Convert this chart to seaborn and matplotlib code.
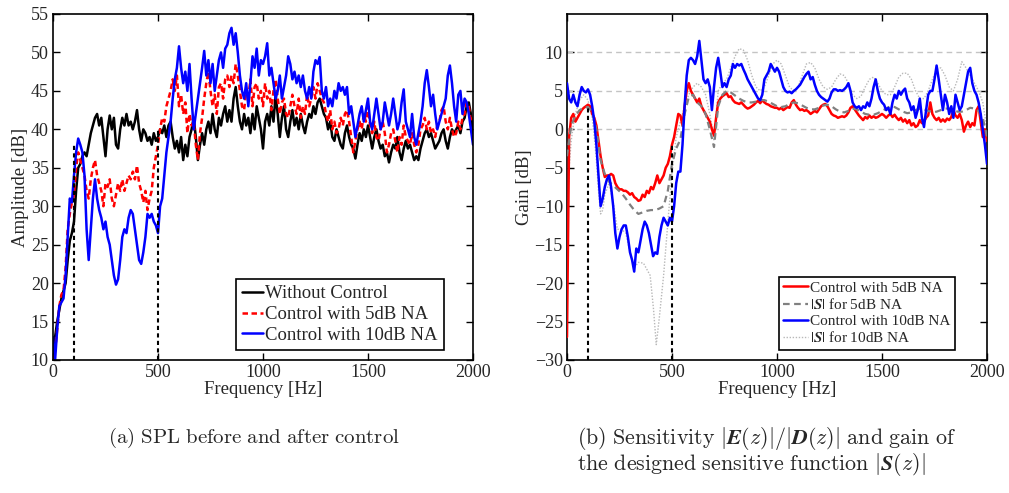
import numpy as np
import matplotlib
matplotlib.use("Agg")
import matplotlib.pyplot as plt
import seaborn as sns
from matplotlib.font_manager import FontProperties

# ---------------- data ----------------
freq_10 = np.arange(0, 2001, 10)

spl_without = [
    10, 13, 15, 16.5, 18, 19, 20, 23, 25.5, 26.5,
    28, 32, 35, 35.5, 36.5, 37, 36.5, 38, 39.5, 40.5,
    41.5, 42, 40.5, 41.5, 39, 36.5, 40, 41.8, 40, 41.5,
    38, 37.5, 40, 41.5, 40.5, 42, 40.5, 41, 40, 41,
    42.5, 40, 38.5, 40, 39.5, 38.5, 39, 38, 39.5, 38.5,
    39, 40, 39.5, 40.5, 39, 40.5, 41, 39, 37.5, 38.5,
    37, 39, 36, 38, 36.5, 39, 40, 41.5, 39, 36,
    38, 39.5, 38, 40, 41, 39.5, 42, 40, 39, 41.5,
    40.5, 42, 43, 41, 42.5, 41, 44, 45.5, 43, 41,
    40, 42, 40.5, 41.5, 39.5, 42, 40, 43, 41.5, 40,
    37.5, 41, 42, 40.5, 43, 41, 44.5, 42, 39, 41.5,
    43, 40, 39, 41, 42.5, 40.5, 41.5, 40, 42, 40.5,
    39.5, 41, 42, 41.5, 43, 42, 43.5, 44, 43, 42,
    41.5, 40, 41, 39, 38.5, 40, 39, 38, 37.5, 39.5,
    40.5, 39, 38, 37.5, 36.2, 38, 39.5, 38.5, 40, 39,
    40.5, 39, 37.5, 39, 40, 38.5, 37.5, 38, 36.5, 37,
    35.7, 37, 38, 37.5, 39, 37, 36, 37.5, 38.5, 37.5,
    38, 37, 36, 36.5, 36, 37.5, 38.5, 39.5, 40, 39,
    39.5, 38.5, 37.5, 38, 38.5, 39.5, 40, 38.5, 37.5, 39,
    40, 39.5, 40, 40.5, 39.5, 41, 41.5, 43, 43.5, 42,
    39.5]

spl_5db = [
    10, 11, 14, 17, 18.5, 19, 22, 27, 29, 30.5,
    31.5, 35, 37, 36, 35, 34, 32, 31, 33.5, 35,
    36, 34, 33, 32, 30, 33, 32.5, 33.5, 31, 30,
    31.5, 33, 32, 33.5, 32, 33, 34, 33.5, 34.5, 33.5,
    35.3, 33, 32, 30.5, 32, 29.5, 31, 32, 35, 36.5,
    38, 40, 41.5, 41, 43, 44, 45, 46.5, 45, 47,
    43, 44.5, 42, 43.5, 39.5, 42, 40.5, 41, 38, 36,
    39.5, 41.5, 44, 46, 47.5, 45, 43, 44.5, 42, 45.5,
    46, 44, 46.5, 47, 45.5, 47, 46, 48.5, 47, 45,
    43, 42.5, 45, 44, 46.5, 43, 45.5, 46, 44, 45,
    43, 46, 44, 45, 42.5, 45, 46.5, 44, 42, 43.5,
    44, 42, 41.5, 43, 44.5, 43, 42, 44, 41.5, 43,
    42, 44.5, 43, 44, 45.5, 44, 46, 45, 44, 43.5,
    42, 41, 42.5, 40, 41, 39.5, 40, 41.5, 40.5, 42,
    42.5, 41, 39, 37, 38.5, 40, 41, 40, 42, 41,
    43, 40.5, 39.5, 41, 39, 38.5, 40, 41, 39.5, 37,
    38, 39.5, 40, 38.5, 37, 39, 38, 40.5, 39, 38.5,
    38, 39.5, 38, 37, 38, 40, 40.5, 41.5, 40, 41,
    39.5, 40, 39, 40.5, 41, 42.5, 43, 41, 40, 41.5,
    40, 39, 39.5, 41, 40, 41.5, 42, 43.5, 43, 41,
    41.5]

spl_10db = [
    13, 10, 14, 17, 17.5, 18, 21, 26, 31, 30.5,
    34, 37, 38.8, 38, 37, 34, 27, 23, 27, 31,
    33.5, 31, 29.5, 28.5, 27, 28, 26, 25, 23, 21,
    19.8, 20.5, 23, 26, 27, 26.5, 28.5, 29.5, 29, 27,
    25, 23, 22.5, 24, 26, 29, 28.5, 29, 28, 27.5,
    26.5, 30, 31, 34, 37, 39, 41, 44, 46.5, 48,
    50.8, 48, 46, 47.5, 45, 48.5, 44, 40, 42, 44,
    46, 48, 50.2, 47, 49, 46, 48.5, 45, 47, 49,
    50, 48, 50.5, 51, 52.5, 53.2, 51, 52.5, 50, 47,
    45, 44, 46, 43, 46, 49.5, 48, 50.5, 47, 49,
    48.5, 49.5, 51.2, 47, 48, 46, 44, 45, 47, 44,
    45.5, 47, 49.5, 48.5, 46.5, 47.5, 46, 47, 45.5, 47,
    45, 44, 45.5, 44, 47.5, 49, 48.5, 49.4, 45, 44,
    45.5, 43, 44, 43, 45, 44, 46, 45, 45.5, 44.5,
    45.5, 42, 43, 41, 39, 40.5, 42, 43, 41, 42.5,
    44, 41, 40, 42, 44, 42, 40, 41, 43.5, 42,
    40.5, 42, 44, 42, 40, 41, 43.5, 45.2, 41, 40,
    39, 42, 39, 38, 39.5, 41, 43, 46, 47.7, 45.5,
    43, 44.5, 42, 40, 41, 42, 43, 44, 47, 48.3,
    46, 43, 41, 44.5, 45, 42, 44, 43.5, 42, 40,
    38]

gain_5db = [
    -27, -1, 1.5, 2, 1, 1.5, 2, 2.5, 2.8, 3,
    3.2, 3, 2, 1.5, 0.5, -1.5, -3.5, -5, -6.2, -6,
    -6, -5.8, -6, -7, -7.5, -7.8, -7.8, -8, -8, -8.2,
    -8.5, -8.3, -8.8, -9, -9.3, -9.2, -8.5, -8.8, -8, -8.3,
    -7.5, -7.8, -7, -6, -7, -6.5, -6, -5, -4.5, -3.5,
    -2, -1, 0.5, 2, 1.8, 0.5, 3, 5, 6, 5,
    4.5, 4, 3.5, 4, 3, 2.5, 2, 1.5, 1, 0,
    -0.8, 1.5, 3.5, 4, 4.3, 4.5, 4.7, 4.2, 4.3, 3.8,
    3.5, 3.4, 3.3, 3.5, 3.2, 2.9, 2.7, 2.8, 3, 3.2,
    3.5, 3.7, 3.4, 3.8, 3.5, 3.3, 3.2, 3.0, 2.9, 2.8,
    2.8, 2.6, 2.8, 2.5, 2.7, 2.9, 2.8, 3.5, 3.8, 3.2,
    2.8, 2.5, 2.6, 2.4, 2.5, 2.3, 2.0, 2.2, 2.4, 2.2,
    2.6, 3, 3.2, 3.3, 3.0, 2.5, 2.0, 1.8, 1.7, 1.5,
    1.6, 1.7, 1.6, 1.8, 2.2, 2.8, 3, 2.6, 2.2, 1.8,
    1.5, 1.2, 1.6, 1.4, 1.8, 1.5, 1.7, 1.5, 1.6, 1.8,
    2.0, 1.8, 1.5, 1.8, 2.0, 1.6, 1.9, 1.5, 1.2, 1.5,
    1.0, 1.3, 0.8, 1.2, 0.5, 0.8, 0.3, 0.5, 1.2, 0.8,
    1.0, 1.5, 1.8, 3.5, 2.0, 1.5, 1.2, 1.5, 1.0, 1.3,
    1.0, 1.4, 1.2, 1.6, 2.5, 1.8, 1.5, 2.0, 1.2, -0.3,
    0.5, 1.0, 0.3, 0.8, 0.5, 2.5, 3.0, 1.0, -1.0, 0.0,
    -1.5]

gain_10db = [
    6, 4, 3.5, 4.5, 3.5, 3.0, 4.5, 5.5, 5.0, 4.8,
    5.2, 4.5, 3, 1, -2, -6, -10, -9, -7.5, -6.5,
    -6.0, -7.5, -10, -13.5, -15.5, -14, -13, -12.5, -12.5, -14,
    -16, -17, -18.5, -15.5, -16, -14.5, -13, -12, -12.5, -13.5,
    -15, -16.5, -16, -16.2, -14, -12.5, -11.5, -12, -12.5, -11.5,
    -12, -10, -7, -5.5, -5.5, -2, 3, 7, 9, 9.3,
    9, 8.5, 9.5, 11.5, 9, 6.5, 6.0, 6.5, 5.5, 2.5,
    5.5, 8, 9.3, 7.5, 5.5, 6, 5.5, 6.5, 7, 8.5,
    8, 8.5, 8.3, 8.5, 7.8, 7.2, 6.5, 6.0, 5.5, 5.0,
    4.5, 4.0, 3.8, 4.5, 6.5, 7, 7.5, 8.5, 8, 7.5,
    8, 7.5, 6.5, 5.5, 5.0, 4.8, 4.9, 4.7, 5.0, 5.2,
    5.5, 5.8, 6.3, 6.8, 7.2, 7.5, 6.5, 6.8, 5.8, 5.0,
    4.5, 4.2, 4.0, 3.8, 3.6, 4.0, 4.8, 5.2, 5.2, 5.0,
    5.1, 5.0, 5.2, 5.5, 6.0, 5.0, 3.5, 3.0, 2.8, 3.0,
    2.5, 3.0, 2.8, 3.5, 3.0, 4.0, 5.5, 6.5, 5.0, 4.0,
    3.5, 3.2, 2.5, 2.8, 2.0, 3.5, 4.5, 4.0, 5.0, 4.5,
    5.0, 5.3, 4.0, 3.5, 2.5, 3.0, 1.5, 2.5, 4.0, 1.5,
    0.3, 2.5, 4.5, 5.0, 5.0, 6.5, 8.3, 6.5, 4.5, 2.5,
    4.5, 3.5, 2.0, 3.0, 1.5, 4.5, 3.5, 2.5, 3.0, 4.5,
    6.0, 7.5, 8.0, 6.0, 5.0, 4.5, 3.5, 2.0, 0.0, -2.0,
    -4.5]

freq_20 = np.arange(0, 2001, 20)
s_5db = [
    -3.5, 0.5, 1.8, 2.5, 2.8, 2.9, 2.3, 0, -4, -5.8,
    -6.8, -7.3, -7.8, -8.3, -9, -9.8, -10.5, -11, -10.8, -10.6,
    -10.5, -10.5, -10.3, -10, -8, -4.5, -2.5, -1.3, 2, 4.2,
    4.5, 3.5, 3, 2, 0, -2.3, 3, 4.5, 5, 4.8,
    4.4, 4.0, 3.7, 3.5, 3.5, 3.6, 3.8, 3.8, 3.6, 3.3,
    3.0, 2.9, 3.0, 3.3, 3.5, 3.4, 3.1, 2.8, 2.6, 2.6,
    2.8, 3.1, 3.2, 3.0, 2.6, 2.3, 2.2, 2.4, 2.7, 2.6,
    2.3, 2.0, 1.9, 1.9, 2.1, 2.4, 2.7, 3.0, 2.9, 2.6,
    2.3, 2.1, 2.2, 2.5, 2.7, 2.6, 2.4, 2.2, 2.3, 2.5,
    2.7, 2.7, 2.5, 2.3, 2.3, 2.5, 2.8, 2.7, 2.4, 1.5,
    -1]

freq_s10 = [0, 10, 20, 30, 40, 60, 80, 100, 120, 130, 140, 150, 160, 170, 180,
            200, 220, 240, 260, 280, 300, 320, 340, 364, 396, 412, 425, 440, 460,
            483, 500, 520, 540, 560, 580, 600, 620, 640, 660, 680, 690, 700, 710,
            720, 740, 760, 780, 800, 820, 840, 860, 880, 900, 920, 940, 960, 980,
            1000, 1020, 1040, 1060, 1080, 1100, 1120, 1140, 1160, 1180, 1200, 1220,
            1240, 1260, 1280, 1300, 1320, 1340, 1360, 1380, 1400, 1420, 1440, 1460,
            1480, 1500, 1520, 1540, 1560, 1580, 1600, 1620, 1640, 1660, 1680, 1700,
            1720, 1740, 1760, 1780, 1800, 1820, 1840, 1860, 1880, 1900, 1920, 1940,
            1960, 1980, 2000]
s_10db = [-12, -5, -1.5, 0.5, 2, 3.8, 4.5, 3.8, 1.5, -1, -4, -8, -11, -10.5, -8.5,
          -7, -9.5, -13, -13, -13.5, -16, -18, -17.3, -17.4, -19, -23.4, -28, -24.4, -19,
          -11.2, -5.7, -1, 1, 3, 4.5, 5.5, 6, 5.5, 4.5, 2, 0.5, -1.5, 2,
          5, 6, 6.5, 8, 9.5, 10.5, 10.3, 9, 7, 5.5, 5.0, 5.5, 7, 8.5,
          9, 8.5, 7, 5.5, 5.0, 5.5, 7, 8.5, 8.7, 8, 6.5, 5.5,
          5.2, 5.5, 6.5, 7.2, 7.0, 6.0, 4.5, 4.0, 4.3, 5.5, 6.5, 6.8,
          6.0, 5.0, 4.5, 4.5, 5.5, 6.8, 7.3, 7.3, 6.5, 5.0, 4.0, 4.0,
          5.0, 6.5, 7.8, 8.0, 7.0, 5.5, 5.0, 6.5, 8.8, 8.0, 7.0, 6.0,
          5.0, 3.5, 0]

band_edges = [100, 500]
spl_marker_tops = [38, 40]
gain_marker_tops = [3, -1.8]
gain_ref_levels = [0, 5, 10]

spl_yticks = list(range(10, 56, 5))
gain_yticks = list(range(-30, 11, 5))
freq_ticks = [0, 500, 1000, 1500, 2000]

# ---------------- styling ----------------
sns.set_style("ticks")
plt.rcParams["font.family"] = ["Liberation Serif", "DejaVu Serif"]
plt.rcParams["mathtext.fontset"] = "stix"
plt.rcParams["xtick.direction"] = "in"
plt.rcParams["ytick.direction"] = "in"

fig = plt.figure(figsize=(10.09, 4.93), dpi=100)
ax1 = fig.add_axes([53 / 1009, 1 - 360 / 493, 420 / 1009, 346 / 493])
ax2 = fig.add_axes([567 / 1009, 1 - 360 / 493, 420 / 1009, 346 / 493])

lw = 1.8
# ---- panel (a)
sns.lineplot(x=freq_10, y=spl_without, ax=ax1, color="black", linewidth=lw,
             label="Without Control")
sns.lineplot(x=freq_10, y=spl_5db, ax=ax1, color="#ff0000", linewidth=lw,
             label="Control with 5dB NA")
ax1.lines[-1].set_dashes((2.2, 1.4))
sns.lineplot(x=freq_10, y=spl_10db, ax=ax1, color="#0000ff", linewidth=lw,
             label="Control with 10dB NA")
ax1.vlines(band_edges, 10, spl_marker_tops, colors="black", linestyles=(0, (2, 1.6)),
           linewidth=1.5)

# ---- panel (b)
ax2.hlines(gain_ref_levels, 0, 2000, colors="#c4c4c4", linestyles=(0, (4, 3)),
           linewidth=1.0, zorder=1)
sns.lineplot(x=freq_10, y=gain_5db, ax=ax2, color="#ff0000", linewidth=lw,
             label="Control with 5dB NA", zorder=3)
sns.lineplot(x=freq_20, y=s_5db, ax=ax2, color="#808080", linewidth=1.6,
             label="$|\\boldsymbol{S}|$ for 5dB NA", zorder=4)
ax2.lines[-1].set_dashes((3, 2))
sns.lineplot(x=freq_10, y=gain_10db, ax=ax2, color="#0000ff", linewidth=lw,
             label="Control with 10dB NA", zorder=5)
sns.lineplot(x=freq_s10, y=s_10db, ax=ax2, color="#b8b8b8", linewidth=1.0,
             label="$|\\boldsymbol{S}|$ for 10dB NA", zorder=2)
ax2.lines[-1].set_dashes((1, 1.2))
ax2.vlines(band_edges, -30, gain_marker_tops, colors="black",
           linestyles=(0, (2, 1.6)), linewidth=1.5, zorder=6)

for ax, yt, ylim, ylab in [(ax1, spl_yticks, (10, 55), "Amplitude [dB]"),
                           (ax2, gain_yticks, (-30, 15), "Gain [dB]")]:
    ax.set_xlim(0, 2000)
    ax.set_ylim(*ylim)
    ax.set_xticks(freq_ticks)
    ax.set_yticks(yt)
    ax.tick_params(axis="both", which="both", direction="in", top=True, right=True,
                   length=5, width=1.0, labelsize=13, pad=3, color="black")
    for s in ax.spines.values():
        s.set_visible(True)
        s.set_linewidth(1.2)
        s.set_color("black")
    ax.set_xlabel("Frequency [Hz]", fontsize=13.5, labelpad=0)
    ax.set_ylabel(ylab, fontsize=13.5, labelpad=1)

leg1 = ax1.legend(loc="lower right", bbox_to_anchor=(0.93, 0.03), fontsize=13.5,
                  frameon=True, fancybox=False, edgecolor="black", framealpha=1,
                  handlelength=1.1, handletextpad=0.15, labelspacing=0.2,
                  borderpad=0.3, borderaxespad=0)
leg1.get_frame().set_linewidth(1.2)

leg2 = ax2.legend(loc="lower right", bbox_to_anchor=(0.924, 0.029),
                  prop=FontProperties(family="Liberation Serif", size=11,
                                      math_fontfamily="stix"),
                  frameon=True, fancybox=False, edgecolor="black", framealpha=1,
                  handlelength=1.6, handletextpad=0.15, labelspacing=0.15,
                  borderpad=0.3, borderaxespad=0)
leg2.get_frame().set_linewidth(1.2)

# ---- captions
cap_kw = dict(fontsize=15, math_fontfamily="cm", va="center")
fig.text(108 / 1009, 1 - 438 / 493,
         r"$\mathrm{(a)\ SPL\ before\ and\ after\ control}$", ha="left", **cap_kw)
fig.text(577 / 1009, 1 - 438 / 493,
         r"$\mathrm{(b)\ Sensitivity\ }|\boldsymbol{E}(z)|/|\boldsymbol{D}(z)|\mathrm{\ and\ gain\ of}$",
         ha="left", fontsize=15.8, math_fontfamily="cm", va="center")
fig.text(577 / 1009, 1 - 465 / 493,
         r"$\mathrm{the\ designed\ sensitive\ function\ }|\boldsymbol{S}(z)|$",
         ha="left", fontsize=15.8, math_fontfamily="cm", va="center")

fig.savefig("out.png", dpi=100)
